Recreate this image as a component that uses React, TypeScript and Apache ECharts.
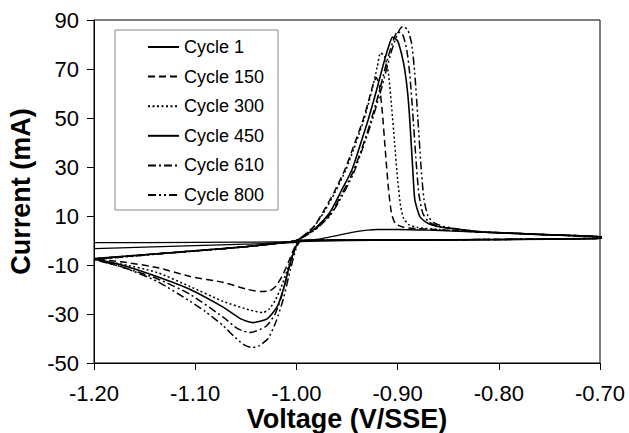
import React, { useEffect, useRef } from "react";
import * as echarts from "echarts";

type Pt = [number, number];

// Voltage (V/SSE), Current (mA) pairs, in scan order
const cycle1: Pt[] = [
  [-1.2, -3.3], [-1.15, -2.7], [-1.1, -2.1], [-1.05, -1.5], [-1.0, -0.8], [-0.99, 0],
  [-0.975, 0.8], [-0.96, 2.0], [-0.945, 3.3], [-0.93, 4.2], [-0.92, 4.5], [-0.9, 4.5],
  [-0.87, 4.2], [-0.82, 3.4], [-0.76, 2.4], [-0.692, 1.3],
  [-0.692, 0.9], [-0.75, 0.5], [-0.85, 0.2], [-0.95, 0], [-1.0, -0.5], [-1.1, -0.8], [-1.2, -0.9],
];

const cycle150: Pt[] = [
  [-1.2, -7.5], [-1.15, -5.8], [-1.1, -4.2], [-1.05, -2.5], [-1.02, -1.2], [-1.0, 0],
  [-0.99, 3], [-0.982, 6], [-0.974, 11.4], [-0.963, 19.5], [-0.952, 29], [-0.943, 39],
  [-0.934, 49.4], [-0.928, 58], [-0.924, 64], [-0.921, 66.5], [-0.918, 63], [-0.915, 52],
  [-0.912, 36], [-0.909, 21], [-0.906, 11], [-0.902, 6.8], [-0.894, 5.4], [-0.88, 4.8],
  [-0.86, 4.4], [-0.82, 3.5], [-0.76, 2.5], [-0.692, 1.3],
  [-0.692, 1.0], [-0.75, 0.6], [-0.85, 0.3], [-0.95, 0.2], [-0.997, 0],
  [-1.003, -4], [-1.008, -9], [-1.014, -14.5], [-1.02, -18.5], [-1.026, -20.5], [-1.035, -20.8],
  [-1.05, -19.8], [-1.072, -17.1], [-1.105, -14.7], [-1.138, -11], [-1.171, -8.8], [-1.2, -7.5],
];

const cycle300: Pt[] = [
  [-1.2, -7.6], [-1.15, -5.9], [-1.1, -4.3], [-1.05, -2.6], [-1.02, -1.2], [-1.0, 0],
  [-0.99, 2.8], [-0.982, 6], [-0.973, 11.4], [-0.962, 19.5], [-0.951, 29], [-0.941, 40],
  [-0.932, 51], [-0.925, 62], [-0.92, 71], [-0.917, 76.5], [-0.913, 75.5], [-0.909, 68],
  [-0.906, 55], [-0.903, 40], [-0.9, 25], [-0.897, 14], [-0.894, 9], [-0.889, 6.5],
  [-0.88, 5.3], [-0.86, 4.5], [-0.82, 3.5], [-0.76, 2.5], [-0.692, 1.3],
  [-0.692, 1.0], [-0.75, 0.6], [-0.85, 0.3], [-0.95, 0.2], [-0.997, 0],
  [-1.003, -5], [-1.009, -12], [-1.015, -19], [-1.021, -24.5], [-1.027, -28], [-1.033, -29.4],
  [-1.045, -28.5], [-1.072, -24.9], [-1.105, -18.8], [-1.138, -13], [-1.171, -9.8], [-1.2, -7.8],
];

const cycle450: Pt[] = [
  [-1.2, -7.4], [-1.15, -5.8], [-1.1, -4.2], [-1.05, -2.5], [-1.02, -1.2], [-1.0, 0],
  [-0.99, 2.5], [-0.98, 5.5], [-0.967, 11.4], [-0.956, 20], [-0.945, 29], [-0.937, 39],
  [-0.929, 49.4], [-0.921, 61], [-0.914, 72], [-0.909, 79], [-0.905, 83], [-0.9, 81.5],
  [-0.896, 76], [-0.893, 69.8], [-0.89, 60], [-0.888, 49.4], [-0.885, 29], [-0.883, 16.7],
  [-0.878, 9.8], [-0.872, 7.5], [-0.866, 6.3], [-0.855, 5.3], [-0.84, 4.5], [-0.82, 3.6],
  [-0.76, 2.5], [-0.692, 1.3],
  [-0.692, 1.0], [-0.75, 0.6], [-0.85, 0.3], [-0.95, 0.2], [-0.996, 0],
  [-1.0, -2], [-1.006, -9], [-1.013, -20], [-1.019, -27], [-1.029, -32], [-1.043, -33.5],
  [-1.055, -32], [-1.072, -27.3], [-1.105, -20], [-1.138, -14.7], [-1.171, -10.2], [-1.2, -7.4],
];

const cycle610: Pt[] = [
  [-1.2, -7.5], [-1.15, -5.8], [-1.1, -4.2], [-1.05, -2.5], [-1.02, -1.2], [-1.0, 0],
  [-0.99, 2.3], [-0.98, 5], [-0.966, 11], [-0.955, 19], [-0.944, 28], [-0.935, 38],
  [-0.927, 48], [-0.918, 61], [-0.91, 74], [-0.904, 82], [-0.9, 85.3], [-0.895, 84],
  [-0.891, 78], [-0.888, 68], [-0.885, 52], [-0.882, 34], [-0.879, 19], [-0.875, 11],
  [-0.869, 7.5], [-0.86, 5.8], [-0.84, 4.6], [-0.82, 3.6], [-0.76, 2.5], [-0.692, 1.3],
  [-0.692, 1.0], [-0.75, 0.6], [-0.85, 0.3], [-0.95, 0.2], [-0.996, 0],
  [-1.001, -3], [-1.007, -11], [-1.014, -22], [-1.021, -30], [-1.03, -35], [-1.046, -37.6],
  [-1.058, -36], [-1.072, -31.4], [-1.105, -22], [-1.138, -15.5], [-1.171, -11], [-1.2, -7.5],
];

const cycle800: Pt[] = [
  [-1.2, -7.8], [-1.15, -6.0], [-1.1, -4.3], [-1.05, -2.6], [-1.02, -1.2], [-1.0, 0],
  [-0.99, 2.2], [-0.98, 4.8], [-0.966, 10.5], [-0.955, 18], [-0.944, 27], [-0.935, 37],
  [-0.926, 48], [-0.916, 62], [-0.907, 76], [-0.9, 84.5], [-0.895, 87.3], [-0.89, 86],
  [-0.886, 80], [-0.883, 68], [-0.88, 50], [-0.877, 31], [-0.874, 17], [-0.87, 10],
  [-0.864, 7.2], [-0.855, 5.8], [-0.84, 4.7], [-0.82, 3.7], [-0.76, 2.5], [-0.692, 1.3],
  [-0.692, 1.0], [-0.75, 0.6], [-0.85, 0.3], [-0.95, 0.2], [-0.995, 0],
  [-1.0, -3], [-1.006, -12], [-1.013, -24], [-1.02, -33], [-1.028, -40], [-1.037, -43],
  [-1.044, -43.7], [-1.052, -42.5], [-1.062, -39], [-1.072, -34.9], [-1.09, -29],
  [-1.105, -24.8], [-1.138, -16.6], [-1.171, -11], [-1.2, -7.8],
];

const seriesNames = ["Cycle 1", "Cycle 150", "Cycle 300", "Cycle 450", "Cycle 610", "Cycle 800"];
const seriesData = [cycle1, cycle150, cycle300, cycle450, cycle610, cycle800];
const dashTypes: any[] = ["solid", [7, 4], [2, 2.5], "solid", [8, 3, 2, 3], [8, 3, 2, 3, 2, 3]];
const lineWidths = [1.3, 1.5, 1.5, 1.6, 1.5, 1.5];

const FONT = "'Liberation Sans', Arial, sans-serif";

export default function App() {
  const ref = useRef<HTMLDivElement>(null);
  useEffect(() => {
    if (!ref.current) return;
    const chart = echarts.init(ref.current, null, { renderer: "svg" });
    chart.setOption({
      animation: false,
      backgroundColor: "#fff",
      textStyle: { fontFamily: FONT, color: "#000" },
      grid: {
        left: 94, top: 20, right: 29, bottom: 70,
        containLabel: false,
        outerBoundsMode: "none",
        show: true, borderColor: "#000", borderWidth: 1, backgroundColor: "transparent",
      },
      legend: {
        orient: "vertical",
        left: 115,
        top: 30,
        padding: [8, 14, 6, 32],
        itemWidth: 31,
        itemHeight: 14,
        itemGap: 11.6,
        borderColor: "#888",
        borderWidth: 1,
        backgroundColor: "#fff",
        itemStyle: { opacity: 0 },
        textStyle: { fontFamily: FONT, fontSize: 18, color: "#000", lineHeight: 18 },
        data: seriesNames,
      },
      xAxis: {
        type: "value",
        min: -1.2,
        max: -0.7,
        interval: 0.1,
        name: "Voltage (V/SSE)",
        nameLocation: "middle",
        nameGap: 42,
        nameMoveOverlap: false,
        nameTextStyle: {
          fontFamily: FONT, fontSize: 27, fontWeight: "bold", color: "#000", lineHeight: 27,
        },
        axisLine: { onZero: false, lineStyle: { color: "#000", width: 1 } },
        axisTick: { show: true, length: 7, lineStyle: { color: "#000" } },
        axisLabel: {
          margin: 19, fontSize: 22, color: "#000", fontFamily: FONT,
          formatter: (v: number) => v.toFixed(2),
        },
        splitLine: { show: false },
      },
      yAxis: {
        type: "value",
        min: -50,
        max: 90,
        interval: 20,
        name: "Current (mA)",
        nameLocation: "middle",
        nameGap: 60,
        nameMoveOverlap: false,
        nameTextStyle: { fontFamily: FONT, fontSize: 27, fontWeight: "bold", color: "#000" },
        axisLine: { show: true, onZero: false, lineStyle: { color: "#000", width: 1 } },
        axisTick: { show: true, length: 7, lineStyle: { color: "#000" } },
        axisLabel: { margin: 15, fontSize: 22, color: "#000", fontFamily: FONT },
        splitLine: { show: false },
      },
      series: seriesNames.map((name, i) => ({
        name,
        type: "line",
        data: seriesData[i],
        showSymbol: false,
        symbol: "none",
        smooth: 0.2,
        lineStyle: { color: "#000", width: lineWidths[i], type: dashTypes[i] },
        itemStyle: { color: "#000" },
        z: 2,
      })),
    });
    return () => chart.dispose();
  }, []);
  return (
    <div
      ref={ref}
      style={{ position: "fixed", left: 0, top: 0, width: 629, height: 433, background: "#fff" }}
    />
  );
}
